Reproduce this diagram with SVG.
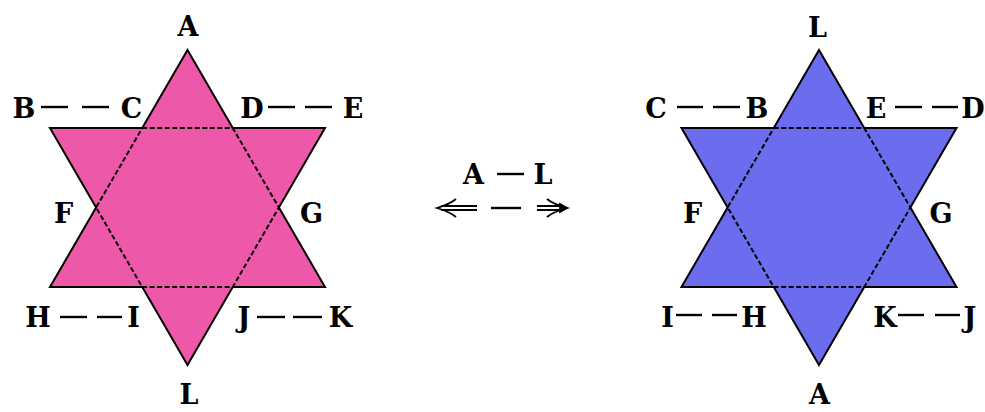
<svg xmlns="http://www.w3.org/2000/svg" width="985" height="412" viewBox="0 0 985 412">
<style>
.lbl{font-family:"DejaVu Serif","Liberation Serif",serif;font-weight:bold;font-size:27px;fill:#000;text-anchor:middle}
.outline{fill:none;stroke:#000;stroke-width:2;stroke-linejoin:miter}
.inner{fill:none;stroke:#000;stroke-width:2;stroke-dasharray:5 2.5}
.dash{stroke:#000;stroke-width:2.4}
.pink{fill:#ee58a8}
.blue{fill:#6c6cee}
</style>
<defs>
<polygon id="starShape" points="187.5,50 232.75,128 325,128 278.9,207.5 325,287 232.75,287 187.5,365 142.25,287 50,287 96.1,207.5 50,128 142.25,128"/>
<polygon id="hexShape" points="142.25,128 232.75,128 278.9,207.5 232.75,287 142.25,287 96.1,207.5"/>
</defs>
<g id="star-left">
<use href="#starShape" class="pink"/>
<use href="#starShape" class="outline"/>
<use href="#hexShape" class="inner"/>
</g>
<g id="star-right" transform="translate(631.5,0)">
<use href="#starShape" class="blue"/>
<use href="#starShape" class="outline"/>
<use href="#hexShape" class="inner"/>
</g>
<g id="labels-left">
<text id="lA" class="lbl" x="188" y="36">A</text>
<text id="lB" class="lbl" x="24" y="118">B</text>
<text id="lC" class="lbl" x="131.5" y="118">C</text>
<text id="lD" class="lbl" x="252" y="118">D</text>
<text id="lE" class="lbl" x="353" y="118">E</text>
<text id="lF" class="lbl" x="63.5" y="223">F</text>
<text id="lG" class="lbl" x="311.5" y="223">G</text>
<text id="lH" class="lbl" x="38" y="327">H</text>
<text id="lI" class="lbl" x="133.5" y="327">I</text>
<text id="lJ" class="lbl" x="244" y="327">J</text>
<text id="lK" class="lbl" x="340.5" y="327">K</text>
<text id="lL" class="lbl" x="189" y="404">L</text>
</g>
<g id="labels-right">
<text id="rL" class="lbl" x="817.5" y="37">L</text>
<text id="rC" class="lbl" x="656" y="118">C</text>
<text id="rB" class="lbl" x="757" y="118">B</text>
<text id="rE" class="lbl" x="876" y="118">E</text>
<text id="rD" class="lbl" x="973" y="118">D</text>
<text id="rF" class="lbl" x="692.5" y="223">F</text>
<text id="rG" class="lbl" x="941" y="223">G</text>
<text id="rI" class="lbl" x="667.5" y="327">I</text>
<text id="rH" class="lbl" x="754" y="327">H</text>
<text id="rK" class="lbl" x="885" y="327">K</text>
<text id="rJ" class="lbl" x="970" y="327">J</text>
<text id="rA" class="lbl" x="819.5" y="404">A</text>
</g>
<g id="labels-middle">
<text id="mA" class="lbl" x="473.5" y="184">A</text>
<text id="mL" class="lbl" x="543" y="184">L</text>
</g>
<g id="connectors">
<line class="dash" x1="41" y1="107" x2="68" y2="107"/>
<line class="dash" x1="82" y1="107" x2="109" y2="107"/>
<line class="dash" x1="268" y1="107" x2="295" y2="107"/>
<line class="dash" x1="305" y1="107" x2="332" y2="107"/>
<line class="dash" x1="60" y1="317" x2="87" y2="317"/>
<line class="dash" x1="97" y1="317" x2="122" y2="317"/>
<line class="dash" x1="257" y1="317" x2="285" y2="317"/>
<line class="dash" x1="293" y1="317" x2="322" y2="317"/>
<line class="dash" x1="677" y1="107" x2="703" y2="107"/>
<line class="dash" x1="713" y1="107" x2="740" y2="107"/>
<line class="dash" x1="895" y1="107" x2="922" y2="107"/>
<line class="dash" x1="932" y1="107" x2="958" y2="107"/>
<line class="dash" x1="676" y1="315" x2="702" y2="315"/>
<line class="dash" x1="712" y1="315" x2="737" y2="315"/>
<line class="dash" x1="898" y1="315" x2="924" y2="315"/>
<line class="dash" x1="935" y1="315" x2="960" y2="315"/>
<line class="dash" x1="497" y1="174" x2="524" y2="174"/>
<line class="dash" x1="491" y1="208" x2="521" y2="208"/>
<g id="arrow-left" fill="none" stroke="#000" stroke-width="1.8">
<path d="M441,206 H477 M441,210 H477"/>
<path d="M456,199 Q450,204 437,208 Q450,212 456,217"/>
</g>
<g id="arrow-right" fill="none" stroke="#000" stroke-width="1.8">
<path d="M537,206 H560 M537,210 H560"/>
<path d="M547,199 Q553,204 567,208 Q553,212 547,217"/>
<polygon points="560,204 567,208 560,212" fill="#000"/>
</g>
</g>
</svg>
